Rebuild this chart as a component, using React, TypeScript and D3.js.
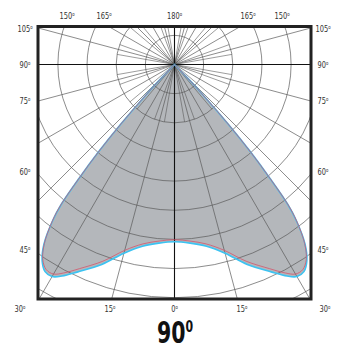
import React from 'react';
import * as d3 from 'd3';

// Polar angle from nadir (degrees) and intensity in ring units
const thetaDeg = [0, 5, 10, 15, 20, 25, 28, 30, 32, 34, 36, 38, 39, 40, 41, 42, 43, 44, 45];
const redCurve = [6.01, 6.08, 6.25, 6.6, 7.18, 7.73, 8.1, 8.3, 8.3, 8.08, 7.6, 6.8, 6.2, 5.1, 4.0, 2.8, 1.6, 0.6, 0];
const cyanCurve = [6.08, 6.15, 6.33, 6.7, 7.3, 7.85, 8.22, 8.4, 8.38, 8.12, 7.62, 6.78, 6.17, 5.07, 3.97, 2.77, 1.58, 0.58, 0];
const ringValues = [1, 2, 3, 4, 5, 6, 7, 8, 9];
const spokeMajor = d3.range(0, 360, 15);
const spokeMinor = d3.range(0, 360, 10);
const sideLabels = [105, 90, 75, 60, 45];
const topLabels = [150, 165, 180, 165, 150];
const bottomLabels = [30, 15, 0, 15, 30];

const W = 337, H = 350;
const cx = 174.5, cy = 64.5;
const fx0 = 38, fx1 = 311, fy0 = 26.5, fy1 = 299;
const FONT = "'Liberation Sans Narrow','DejaVu Sans Condensed','Liberation Sans',sans-serif";

function Deg({ x, y, v }: { x: number; y: number; v: number }) {
  return (
    <text transform={`translate(${x},${y + 3.4}) scale(0.78,1)`} textAnchor="middle"
      fill="#333" fontFamily={FONT} fontSize={9.5}>
      {v}<tspan fontSize={5.5} dy={-3.6}>o</tspan>
    </text>
  );
}

export default function App() {
  const r = d3.scaleLinear().domain([0, 8]).range([0, 8 * 29.15]);

  const toPts = (vals: number[]) => {
    const pts: [number, number][] = [];
    for (let i = thetaDeg.length - 1; i >= 0; i--) pts.push([-thetaDeg[i], vals[i]]);
    for (let i = 1; i < thetaDeg.length; i++) pts.push([thetaDeg[i], vals[i]]);
    return pts;
  };
  const radial = d3.lineRadial<[number, number]>()
    .angle(d => Math.PI - (d[0] * Math.PI) / 180)
    .radius(d => r(d[1]))
    .curve(d3.curveCatmullRom.alpha(0.5));
  const redPath = radial(toPts(redCurve)) + 'Z';
  const cyanPath = radial(toPts(cyanCurve)) + 'Z';

  const sideY = d3.scaleLinear().domain([105, 90, 75, 60, 45]).range([29, 65, 101, 172, 250]);
  const topX = [67, 104, 174.5, 248, 282];
  const botX = [20, 110, 174.5, 242, 325];

  const spoke = (deg: number, len: number) => {
    const a = (deg * Math.PI) / 180;
    return { x2: cx + Math.sin(a) * len, y2: cy + Math.cos(a) * len };
  };

  return (
    <svg width={W} height={H} style={{ position: 'absolute', left: 0, top: 0, background: '#fff' }}>
      <defs>
        <clipPath id="frame">
          <rect x={fx0} y={fy0} width={fx1 - fx0} height={fy1 - fy0} />
        </clipPath>
      </defs>
      <g clipPath="url(#frame)">
        <path d={cyanPath} transform={`translate(${cx},${cy})`} fill="#b4b7bb" />
        {ringValues.map(v => (
          <circle key={v} cx={cx} cy={cy} r={r(v)} fill="none" stroke="#5a5a5a" strokeWidth={0.7} />
        ))}
        {spokeMinor.filter(d => d % 15 !== 0).map(d => {
          const p = spoke(d, r(2));
          return <line key={'m' + d} x1={cx} y1={cy} x2={p.x2} y2={p.y2} stroke="#5a5a5a" strokeWidth={0.6} />;
        })}
        {spokeMajor.filter(d => d % 90 !== 0).map(d => {
          const p = spoke(d, 500);
          return <line key={'M' + d} x1={cx} y1={cy} x2={p.x2} y2={p.y2} stroke="#5a5a5a" strokeWidth={0.7} />;
        })}
        <line x1={fx0} x2={fx1} y1={cy} y2={cy} stroke="#111" strokeWidth={1.1} />
        <line x1={cx} x2={cx} y1={fy0} y2={fy1} stroke="#111" strokeWidth={1.1} />
        <path d={cyanPath} transform={`translate(${cx},${cy})`} fill="none" stroke="#3cc3f2" strokeWidth={1.6} />
        <path d={redPath} transform={`translate(${cx},${cy})`} fill="none" stroke="#d4566c" strokeWidth={0.8} />
      </g>
      <rect x={fx0} y={fy0} width={fx1 - fx0} height={fy1 - fy0} fill="none" stroke="#222" strokeWidth={3} />
      {sideLabels.map(v => (
        <g key={'s' + v}>
          <Deg x={25} y={sideY(v)} v={v} />
          <Deg x={323} y={sideY(v)} v={v} />
        </g>
      ))}
      {topLabels.map((v, i) => <Deg key={'t' + i} x={topX[i]} y={16} v={v} />)}
      {bottomLabels.map((v, i) => <Deg key={'b' + i} x={botX[i]} y={309} v={v} />)}
      <text transform="translate(175,343) scale(0.76,1)" textAnchor="middle" fill="#111"
        fontFamily={FONT} fontWeight="bold" fontSize={30}>
        90<tspan fontSize={16} dy={-11.5}>0</tspan>
      </text>
    </svg>
  );
}
